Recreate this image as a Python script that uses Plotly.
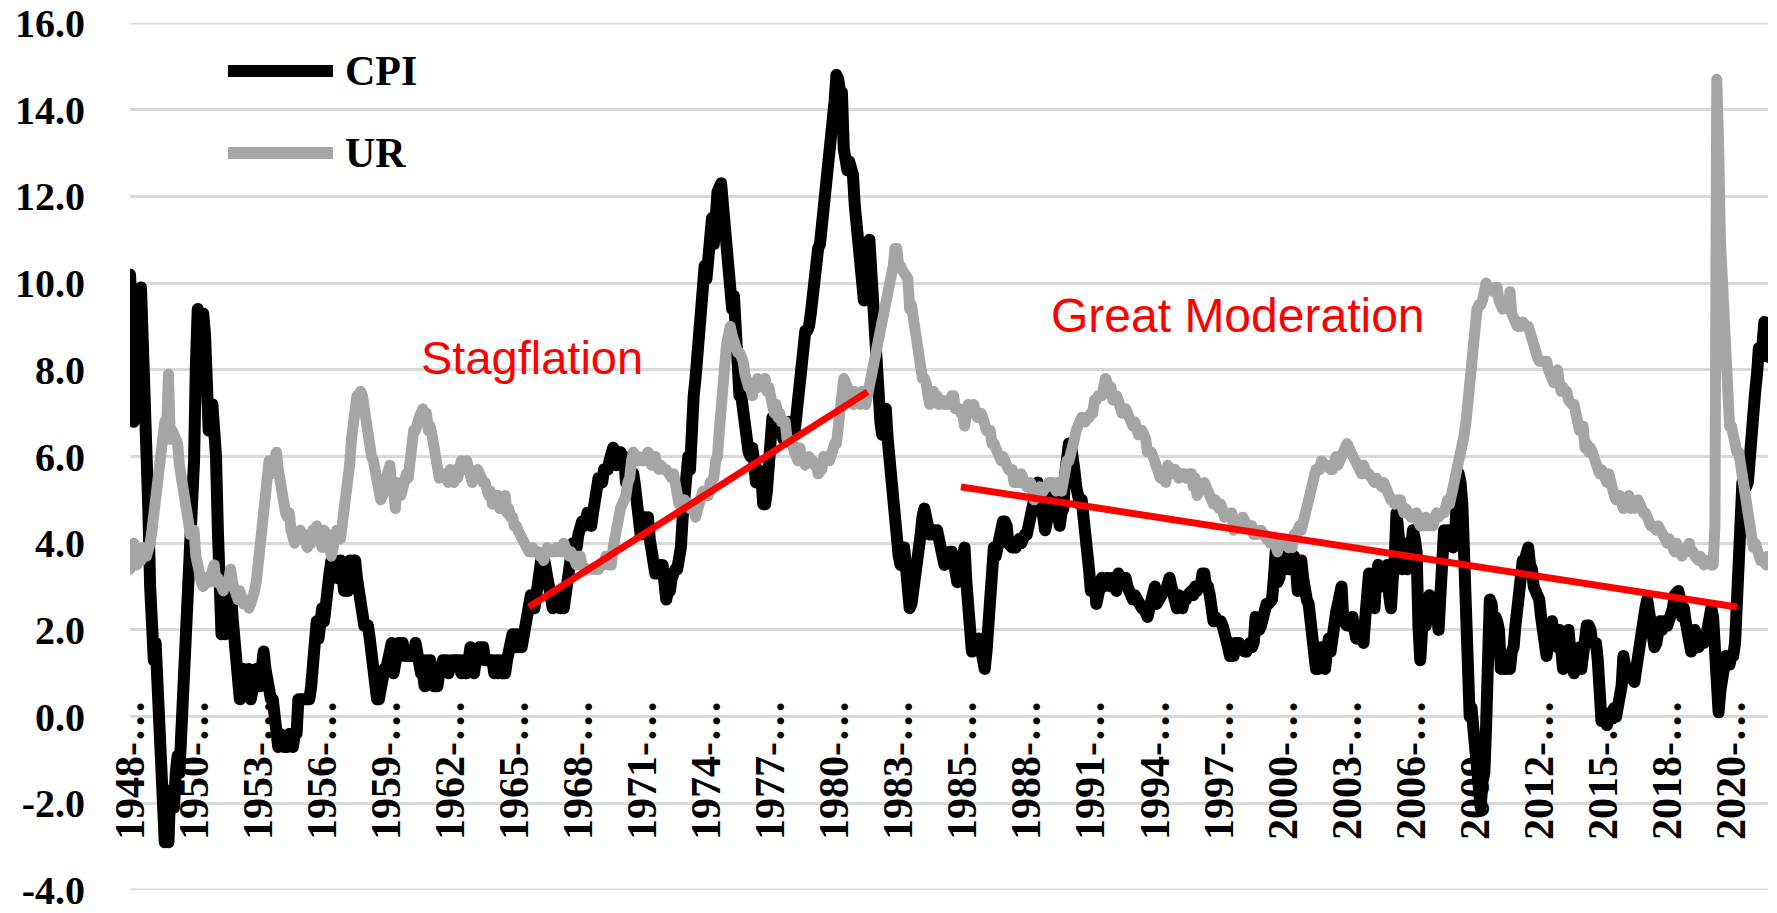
import plotly.graph_objects as go

# Monthly categories 1948-01 .. 2022-08
months = [f"{y}-{m:02d}" for y in range(1948, 2023) for m in range(1, 13)][:896]

# CPI, year-over-year % change (monthly)
cpi_yoy = [
    10.2, 9.3, 6.8, 8.3, 9.4, 9.5, 9.9, 8.9, 6.5, 6.1, 4.8, 3.0,      # 1948
    1.3, 1.3, 1.7, 0.4, -0.4, -0.9, -2.9, -2.9, -2.4, -2.9, -1.7, -2.1,  # 1949
    -2.1, -1.3, -0.9, -1.3, -0.4, -0.4, 1.7, 2.2, 2.2, 3.5, 3.9, 5.9,  # 1950
    8.1, 9.4, 9.3, 9.3, 9.3, 8.8, 7.5, 6.6, 7.0, 7.2, 6.8, 6.0,        # 1951
    4.3, 2.3, 1.9, 2.3, 1.9, 2.3, 3.0, 3.1, 2.3, 1.9, 1.1, 0.8,        # 1952
    0.4, 0.8, 1.1, 0.8, 1.1, 1.1, 0.4, 0.8, 0.7, 1.1, 0.7, 0.7,        # 1953
    1.1, 1.5, 1.1, 0.7, 0.7, 0.4, 0.4, 0.0, -0.4, -0.7, -0.4, -0.7,    # 1954
    -0.7, -0.7, -0.7, -0.4, -0.7, -0.7, -0.4, -0.4, 0.4, 0.4, 0.4, 0.4,  # 1955
    0.4, 0.4, 0.4, 0.7, 1.1, 1.8, 2.2, 1.8, 2.2, 2.5, 2.2, 2.9,        # 1956
    2.9, 3.3, 3.6, 3.6, 3.6, 3.2, 3.2, 3.6, 3.2, 2.9, 3.2, 2.9,        # 1957
    3.6, 3.2, 3.6, 3.6, 3.2, 2.8, 2.5, 2.1, 2.1, 2.1, 2.1, 1.8,        # 1958
    1.4, 1.1, 0.4, 0.4, 0.4, 0.7, 0.7, 1.1, 1.1, 1.4, 1.4, 1.7,        # 1959
    1.0, 1.4, 1.4, 1.7, 1.7, 1.7, 1.4, 1.4, 1.4, 1.4, 1.4, 1.4,        # 1960
    1.7, 1.4, 1.4, 1.0, 1.0, 0.7, 1.3, 1.0, 1.3, 0.7, 0.7, 0.7,        # 1961
    0.7, 1.0, 1.0, 1.3, 1.3, 1.3, 1.0, 1.3, 1.3, 1.3, 1.3, 1.3,        # 1962
    1.3, 1.0, 1.3, 1.0, 1.0, 1.3, 1.6, 1.3, 1.0, 1.3, 1.3, 1.6,        # 1963
    1.6, 1.6, 1.3, 1.3, 1.3, 1.3, 1.3, 1.0, 1.3, 1.0, 1.3, 1.0,        # 1964
    1.0, 1.0, 1.3, 1.6, 1.6, 1.9, 1.6, 1.9, 1.6, 1.9, 1.6, 1.9,        # 1965
    1.9, 2.5, 2.5, 2.8, 2.8, 2.5, 2.8, 3.4, 3.4, 3.7, 3.7, 3.4,        # 1966
    3.4, 2.8, 2.8, 2.5, 2.8, 2.8, 2.8, 2.5, 2.8, 2.5, 2.8, 3.0,        # 1967
    3.6, 4.0, 4.0, 3.9, 3.9, 4.2, 4.5, 4.5, 4.4, 4.7, 4.7, 4.7,        # 1968
    4.4, 4.7, 5.2, 5.5, 5.5, 5.5, 5.4, 5.7, 5.7, 5.7, 5.9, 6.2,        # 1969
    6.2, 6.1, 5.8, 6.1, 6.1, 6.0, 6.0, 5.4, 5.7, 5.6, 5.6, 5.6,        # 1970
    5.3, 5.0, 4.7, 4.2, 4.4, 4.6, 4.4, 4.6, 4.1, 3.8, 3.3, 3.3,        # 1971
    3.3, 3.5, 3.5, 3.5, 3.2, 2.7, 2.9, 2.9, 3.2, 3.4, 3.4, 3.4,        # 1972
    3.6, 3.9, 4.6, 5.1, 5.5, 6.0, 5.7, 7.4, 7.4, 7.8, 8.3, 8.7,        # 1973
    9.4, 10.0, 10.4, 10.1, 10.7, 10.9, 11.5, 10.9, 11.9, 12.1, 12.2, 12.3,  # 1974
    11.8, 11.2, 10.3, 10.2, 9.5, 9.4, 9.7, 8.6, 7.9, 7.4, 7.4, 6.9,    # 1975
    6.7, 6.3, 6.1, 6.0, 6.2, 5.9, 5.4, 5.7, 5.5, 5.5, 4.9, 4.9,        # 1976
    5.2, 6.0, 6.4, 6.9, 6.7, 6.9, 6.8, 6.6, 6.6, 6.4, 6.7, 6.7,        # 1977
    6.8, 6.4, 6.6, 6.5, 7.0, 7.4, 7.7, 7.8, 8.3, 8.9, 8.9, 9.0,        # 1978
    9.3, 9.9, 10.2, 10.5, 10.8, 10.9, 11.3, 11.8, 12.2, 12.1, 12.6, 13.3,  # 1979
    13.9, 14.2, 14.8, 14.7, 14.4, 14.4, 13.1, 12.9, 12.6, 12.8, 12.6, 12.5,  # 1980
    11.8, 11.4, 10.5, 10.0, 9.8, 9.6, 10.8, 10.8, 11.0, 10.1, 9.6, 8.9,  # 1981
    8.4, 7.6, 6.8, 6.5, 6.7, 7.1, 6.4, 5.9, 5.0, 5.1, 4.6, 3.8,        # 1982
    3.7, 3.5, 3.6, 3.9, 3.5, 2.6, 2.5, 2.6, 2.9, 2.9, 3.3, 3.8,        # 1983
    4.2, 4.6, 4.8, 4.6, 4.2, 4.2, 4.2, 4.3, 4.3, 4.3, 4.1, 3.9,        # 1984
    3.5, 3.5, 3.7, 3.7, 3.8, 3.8, 3.6, 3.3, 3.1, 3.2, 3.5, 3.8,        # 1985
    3.9, 3.1, 2.2, 1.6, 1.5, 1.8, 1.6, 1.6, 1.8, 1.5, 1.3, 1.1,        # 1986
    1.5, 2.1, 3.0, 3.8, 3.9, 3.7, 3.9, 4.3, 4.4, 4.5, 4.5, 4.4,        # 1987
    4.0, 3.9, 3.9, 3.9, 3.9, 4.0, 4.1, 4.0, 4.2, 4.2, 4.2, 4.4,        # 1988
    4.7, 4.8, 5.0, 5.1, 5.4, 5.2, 5.0, 4.7, 4.3, 4.5, 4.7, 4.6,        # 1989
    5.2, 5.3, 5.2, 4.7, 4.4, 4.7, 4.8, 5.6, 6.2, 6.3, 6.3, 6.1,        # 1990
    5.7, 5.3, 4.9, 4.9, 5.0, 4.7, 4.4, 3.8, 3.4, 2.9, 3.0, 3.1,        # 1991
    2.6, 2.8, 3.2, 3.2, 3.0, 3.1, 3.2, 3.1, 3.0, 3.2, 3.0, 2.9,        # 1992
    3.3, 3.2, 3.1, 3.2, 3.2, 3.0, 2.8, 2.8, 2.7, 2.8, 2.7, 2.7,        # 1993
    2.5, 2.5, 2.5, 2.4, 2.3, 2.5, 2.8, 2.9, 3.0, 2.6, 2.7, 2.7,        # 1994
    2.8, 2.9, 2.9, 3.1, 3.2, 3.0, 2.8, 2.6, 2.5, 2.8, 2.6, 2.5,        # 1995
    2.7, 2.7, 2.8, 2.9, 2.9, 2.8, 3.0, 2.9, 3.0, 3.0, 3.3, 3.3,        # 1996
    3.0, 3.0, 2.8, 2.5, 2.2, 2.3, 2.2, 2.2, 2.2, 2.1, 1.8, 1.7,        # 1997
    1.6, 1.4, 1.4, 1.4, 1.7, 1.7, 1.7, 1.6, 1.5, 1.5, 1.5, 1.6,        # 1998
    1.7, 1.6, 1.7, 2.3, 2.1, 2.0, 2.1, 2.3, 2.6, 2.6, 2.6, 2.7,        # 1999
    2.7, 3.2, 3.8, 3.1, 3.2, 3.7, 3.7, 3.4, 3.5, 3.4, 3.4, 3.4,        # 2000
    3.7, 3.5, 2.9, 3.3, 3.6, 3.2, 2.7, 2.7, 2.6, 2.1, 1.9, 1.6,        # 2001
    1.1, 1.1, 1.5, 1.6, 1.2, 1.1, 1.5, 1.8, 1.5, 2.0, 2.2, 2.4,        # 2002
    2.6, 3.0, 3.0, 2.2, 2.1, 2.1, 2.1, 2.2, 2.3, 2.0, 1.8, 1.9,        # 2003
    1.9, 1.7, 1.7, 2.3, 3.1, 3.3, 3.0, 2.7, 2.5, 3.2, 3.5, 3.3,        # 2004
    3.0, 3.0, 3.1, 3.5, 2.8, 2.5, 3.2, 3.6, 4.7, 4.3, 3.5, 3.4,        # 2005
    4.0, 3.6, 3.4, 3.5, 4.2, 4.3, 4.1, 3.8, 2.1, 1.3, 2.0, 2.5,        # 2006
    2.1, 2.4, 2.8, 2.6, 2.7, 2.7, 2.4, 2.0, 2.8, 3.5, 4.3, 4.1,        # 2007
    4.3, 4.0, 4.0, 3.9, 4.2, 5.0, 5.6, 5.4, 4.9, 3.7, 1.1, 0.1,        # 2008
    0.0, 0.2, -0.4, -0.7, -1.3, -1.4, -2.1, -1.5, -1.3, -0.2, 1.8, 2.7,  # 2009
    2.6, 2.1, 2.3, 2.2, 2.0, 1.1, 1.2, 1.1, 1.1, 1.2, 1.1, 1.5,        # 2010
    1.6, 2.1, 2.7, 3.2, 3.6, 3.6, 3.6, 3.8, 3.9, 3.5, 3.4, 3.0,        # 2011
    2.9, 2.9, 2.7, 2.3, 1.7, 1.7, 1.4, 1.7, 2.0, 2.2, 1.8, 1.7,        # 2012
    1.6, 2.0, 1.5, 1.1, 1.4, 1.8, 2.0, 1.5, 1.2, 1.0, 1.2, 1.5,        # 2013
    1.6, 1.1, 1.5, 2.0, 2.1, 2.1, 2.0, 1.7, 1.7, 1.7, 1.3, 0.8,        # 2014
    -0.1, 0.0, -0.1, -0.2, 0.0, 0.1, 0.2, 0.2, 0.0, 0.2, 0.5, 0.7,     # 2015
    1.4, 1.0, 0.9, 1.1, 1.0, 1.0, 0.8, 1.1, 1.5, 1.6, 1.7, 2.1,        # 2016
    2.5, 2.7, 2.4, 2.2, 1.9, 1.6, 1.7, 1.9, 2.2, 2.0, 2.2, 2.1,        # 2017
    2.1, 2.2, 2.4, 2.5, 2.8, 2.9, 2.9, 2.7, 2.3, 2.5, 2.2, 1.9,        # 2018
    1.6, 1.5, 1.9, 2.0, 1.8, 1.6, 1.8, 1.7, 1.7, 1.8, 2.1, 2.3,        # 2019
    2.5, 2.3, 1.5, 0.3, 0.1, 0.6, 1.0, 1.3, 1.4, 1.2, 1.2, 1.4,        # 2020
    1.4, 1.7, 2.6, 4.2, 5.0, 5.4, 5.4, 5.3, 5.4, 6.2, 6.8, 7.0,        # 2021
    7.5, 7.9, 8.5, 8.3, 8.6, 9.1, 8.5, 8.3,                            # 2022
]

# Unemployment rate, % (monthly)
unemployment = [
    3.4, 3.8, 4.0, 3.9, 3.5, 3.6, 3.6, 3.9, 3.8, 3.7, 3.8, 4.0,   # 1948
    4.3, 4.7, 5.0, 5.3, 6.1, 6.2, 6.7, 6.8, 6.6, 7.9, 6.4, 6.6,   # 1949
    6.5, 6.4, 6.3, 5.8, 5.5, 5.4, 5.0, 4.5, 4.4, 4.2, 4.2, 4.3,   # 1950
    3.7, 3.4, 3.4, 3.1, 3.0, 3.2, 3.1, 3.1, 3.3, 3.5, 3.5, 3.1,   # 1951
    3.2, 3.1, 2.9, 2.9, 3.0, 3.0, 3.2, 3.4, 3.1, 3.0, 2.8, 2.7,   # 1952
    2.9, 2.6, 2.6, 2.7, 2.5, 2.5, 2.6, 2.7, 2.9, 3.1, 3.5, 4.5,   # 1953
    4.9, 5.2, 5.7, 5.9, 5.9, 5.6, 5.8, 6.0, 6.1, 5.7, 5.3, 5.0,   # 1954
    4.9, 4.7, 4.6, 4.7, 4.3, 4.2, 4.0, 4.2, 4.1, 4.3, 4.2, 4.2,   # 1955
    4.0, 3.9, 4.2, 4.0, 4.3, 4.3, 4.4, 4.1, 3.9, 3.9, 4.3, 4.2,   # 1956
    4.2, 3.9, 3.7, 3.9, 4.1, 4.3, 4.2, 4.1, 4.4, 4.5, 5.1, 5.2,   # 1957
    5.8, 6.4, 6.7, 7.4, 7.4, 7.3, 7.5, 7.4, 7.1, 6.7, 6.2, 6.2,   # 1958
    6.0, 5.9, 5.6, 5.2, 5.1, 5.0, 5.1, 5.2, 5.5, 5.7, 5.8, 5.3,   # 1959
    5.2, 4.8, 5.4, 5.2, 5.1, 5.4, 5.5, 5.6, 5.5, 6.1, 6.1, 6.6,   # 1960
    6.6, 6.9, 6.9, 7.0, 7.1, 6.9, 7.0, 6.6, 6.7, 6.5, 6.1, 6.0,   # 1961
    5.8, 5.5, 5.6, 5.6, 5.5, 5.5, 5.4, 5.7, 5.6, 5.4, 5.7, 5.5,   # 1962
    5.7, 5.9, 5.7, 5.7, 5.9, 5.6, 5.6, 5.4, 5.5, 5.5, 5.7, 5.5,   # 1963
    5.6, 5.4, 5.4, 5.3, 5.1, 5.2, 4.9, 5.0, 5.1, 5.1, 4.8, 5.0,   # 1964
    4.9, 5.1, 4.7, 4.8, 4.6, 4.6, 4.4, 4.4, 4.3, 4.2, 4.1, 4.0,   # 1965
    4.0, 3.8, 3.8, 3.8, 3.9, 3.8, 3.8, 3.8, 3.7, 3.7, 3.6, 3.8,   # 1966
    3.9, 3.8, 3.8, 3.8, 3.8, 3.9, 3.8, 3.8, 3.8, 4.0, 3.9, 3.8,   # 1967
    3.7, 3.8, 3.7, 3.5, 3.5, 3.7, 3.7, 3.5, 3.4, 3.4, 3.4, 3.4,   # 1968
    3.4, 3.4, 3.4, 3.4, 3.4, 3.5, 3.5, 3.5, 3.7, 3.7, 3.5, 3.5,   # 1969
    3.9, 4.2, 4.4, 4.6, 4.8, 4.9, 5.0, 5.1, 5.4, 5.5, 5.9, 6.1,   # 1970
    5.9, 5.9, 6.0, 5.9, 5.9, 5.9, 6.0, 6.1, 6.0, 5.8, 6.0, 6.0,   # 1971
    5.8, 5.7, 5.8, 5.7, 5.7, 5.7, 5.6, 5.6, 5.5, 5.6, 5.3, 5.2,   # 1972
    4.9, 5.0, 4.9, 5.0, 4.9, 4.9, 4.8, 4.8, 4.8, 4.6, 4.8, 4.9,   # 1973
    5.1, 5.2, 5.1, 5.1, 5.1, 5.4, 5.5, 5.5, 5.9, 6.0, 6.6, 7.2,   # 1974
    8.1, 8.1, 8.6, 8.8, 9.0, 8.8, 8.6, 8.4, 8.4, 8.4, 8.3, 8.2,   # 1975
    7.9, 7.7, 7.6, 7.7, 7.4, 7.6, 7.8, 7.8, 7.6, 7.7, 7.8, 7.8,   # 1976
    7.5, 7.6, 7.4, 7.2, 7.0, 7.2, 6.9, 7.0, 6.8, 6.8, 6.8, 6.4,   # 1977
    6.4, 6.3, 6.3, 6.1, 6.0, 5.9, 6.2, 5.9, 6.0, 5.8, 5.9, 6.0,   # 1978
    5.9, 5.9, 5.8, 5.8, 5.6, 5.7, 5.7, 6.0, 5.9, 6.0, 5.9, 6.0,   # 1979
    6.3, 6.3, 6.3, 6.9, 7.5, 7.6, 7.8, 7.7, 7.5, 7.5, 7.5, 7.2,   # 1980
    7.5, 7.4, 7.4, 7.2, 7.5, 7.5, 7.2, 7.4, 7.6, 7.9, 8.3, 8.5,   # 1981
    8.6, 8.9, 9.0, 9.3, 9.4, 9.6, 9.8, 9.8, 10.1, 10.4, 10.8, 10.8,  # 1982
    10.4, 10.4, 10.3, 10.2, 10.1, 10.1, 9.4, 9.5, 9.2, 8.8, 8.5, 8.3,  # 1983
    8.0, 7.8, 7.8, 7.7, 7.4, 7.2, 7.5, 7.5, 7.3, 7.4, 7.2, 7.3,   # 1984
    7.3, 7.2, 7.2, 7.3, 7.2, 7.4, 7.4, 7.1, 7.1, 7.1, 7.0, 7.0,   # 1985
    6.7, 7.2, 7.2, 7.1, 7.2, 7.2, 7.0, 6.9, 7.0, 7.0, 6.9, 6.6,   # 1986
    6.6, 6.6, 6.6, 6.3, 6.3, 6.2, 6.1, 6.0, 5.9, 6.0, 5.8, 5.7,   # 1987
    5.7, 5.7, 5.7, 5.4, 5.6, 5.4, 5.4, 5.6, 5.4, 5.4, 5.3, 5.3,   # 1988
    5.4, 5.2, 5.0, 5.2, 5.2, 5.3, 5.2, 5.2, 5.3, 5.3, 5.4, 5.4,   # 1989
    5.4, 5.3, 5.2, 5.4, 5.4, 5.2, 5.5, 5.7, 5.9, 5.9, 6.2, 6.3,   # 1990
    6.4, 6.6, 6.8, 6.7, 6.9, 6.9, 6.8, 6.9, 6.9, 7.0, 7.0, 7.3,   # 1991
    7.3, 7.4, 7.4, 7.4, 7.6, 7.8, 7.7, 7.6, 7.6, 7.3, 7.4, 7.4,   # 1992
    7.3, 7.1, 7.0, 7.1, 7.1, 7.0, 6.9, 6.8, 6.7, 6.8, 6.6, 6.5,   # 1993
    6.6, 6.6, 6.5, 6.4, 6.1, 6.1, 6.1, 6.0, 5.9, 5.8, 5.6, 5.5,   # 1994
    5.6, 5.4, 5.4, 5.8, 5.6, 5.6, 5.7, 5.7, 5.6, 5.5, 5.6, 5.6,   # 1995
    5.6, 5.5, 5.5, 5.6, 5.6, 5.3, 5.5, 5.1, 5.2, 5.2, 5.4, 5.4,   # 1996
    5.3, 5.2, 5.2, 5.1, 4.9, 5.0, 4.9, 4.8, 4.9, 4.7, 4.6, 4.7,   # 1997
    4.6, 4.6, 4.7, 4.3, 4.4, 4.5, 4.5, 4.5, 4.6, 4.5, 4.4, 4.4,   # 1998
    4.3, 4.4, 4.2, 4.3, 4.2, 4.3, 4.3, 4.2, 4.2, 4.1, 4.1, 4.0,   # 1999
    4.0, 4.1, 4.0, 3.8, 4.0, 4.0, 4.0, 4.1, 3.9, 3.9, 3.9, 3.9,   # 2000
    4.2, 4.2, 4.3, 4.4, 4.3, 4.5, 4.6, 4.9, 5.0, 5.3, 5.5, 5.7,   # 2001
    5.7, 5.7, 5.7, 5.9, 5.8, 5.8, 5.8, 5.7, 5.7, 5.7, 5.9, 6.0,   # 2002
    5.8, 5.9, 5.9, 6.0, 6.1, 6.3, 6.2, 6.1, 6.1, 6.0, 5.8, 5.7,   # 2003
    5.7, 5.6, 5.8, 5.6, 5.6, 5.6, 5.5, 5.4, 5.4, 5.5, 5.4, 5.4,   # 2004
    5.3, 5.4, 5.2, 5.2, 5.1, 5.0, 5.0, 4.9, 5.0, 5.0, 5.0, 4.9,   # 2005
    4.7, 4.8, 4.7, 4.7, 4.6, 4.6, 4.7, 4.7, 4.5, 4.4, 4.5, 4.4,   # 2006
    4.6, 4.5, 4.4, 4.5, 4.4, 4.6, 4.7, 4.6, 4.7, 4.7, 4.7, 5.0,   # 2007
    5.0, 4.9, 5.1, 5.0, 5.4, 5.6, 5.8, 6.1, 6.1, 6.5, 6.8, 7.3,   # 2008
    7.8, 8.3, 8.7, 9.0, 9.4, 9.5, 9.5, 9.6, 9.8, 10.0, 9.9, 9.9,  # 2009
    9.8, 9.8, 9.9, 9.9, 9.6, 9.4, 9.4, 9.5, 9.5, 9.4, 9.8, 9.3,   # 2010
    9.1, 9.0, 9.0, 9.1, 9.0, 9.1, 9.0, 9.0, 9.0, 8.8, 8.6, 8.5,   # 2011
    8.3, 8.3, 8.2, 8.2, 8.2, 8.2, 8.2, 8.0, 7.8, 7.8, 7.7, 7.9,   # 2012
    8.0, 7.7, 7.5, 7.6, 7.5, 7.5, 7.3, 7.2, 7.2, 7.2, 6.9, 6.7,   # 2013
    6.6, 6.7, 6.7, 6.2, 6.3, 6.1, 6.2, 6.1, 5.9, 5.7, 5.8, 5.6,   # 2014
    5.7, 5.5, 5.4, 5.4, 5.6, 5.3, 5.2, 5.1, 5.0, 5.0, 5.1, 5.0,   # 2015
    4.8, 4.9, 5.0, 5.1, 4.8, 4.9, 4.8, 4.9, 5.0, 4.9, 4.7, 4.7,   # 2016
    4.7, 4.6, 4.4, 4.4, 4.4, 4.3, 4.3, 4.4, 4.3, 4.2, 4.2, 4.1,   # 2017
    4.0, 4.1, 4.0, 4.0, 3.8, 4.0, 3.8, 3.8, 3.7, 3.8, 3.8, 3.9,   # 2018
    4.0, 3.8, 3.8, 3.7, 3.6, 3.6, 3.7, 3.6, 3.5, 3.6, 3.6, 3.6,   # 2019
    3.5, 3.5, 4.4, 14.7, 13.2, 11.0, 10.2, 8.4, 7.9, 6.9, 6.7, 6.7,  # 2020
    6.4, 6.2, 6.1, 6.1, 5.8, 5.9, 5.4, 5.2, 4.7, 4.5, 4.2, 3.9,   # 2021
    4.0, 3.8, 3.6, 3.6, 3.6, 3.6, 3.5, 3.7,                       # 2022
]

# Category labels shown on the axis (every 35th month, truncated as in the original)
tick_months = months[::35]
tick_labels = [m[:4] + "-\u2026" for m in tick_months]

# Value-axis ticks (plain hyphen for negatives, as in the original)
y_ticks = [-4, -2, 0, 2, 4, 6, 8, 10, 12, 14, 16]
y_labels = [f"{v:.1f}" for v in y_ticks]

# Annotation trend lines: (start month, start value, end month, end value)
stagflation_trend = ("1966-03", 2.53, "1981-08", 7.49)
moderation_trend = ("1985-11", 5.30, "2021-03", 2.53)

serif = "Liberation Serif"
sans = "Liberation Sans"
grid_color = "#d9d9d9"

fig = go.Figure()
fig.add_trace(go.Scatter(x=months, y=cpi_yoy, mode="lines", name="CPI",
                         line=dict(color="#000000", width=12)))
fig.add_trace(go.Scatter(x=months, y=unemployment, mode="lines", name="UR",
                         line=dict(color="#a5a5a5", width=11)))

# Gridlines at the two ends of the value range (Plotly skips them at the domain edges)
for yv in (y_ticks[0], y_ticks[-1]):
    fig.add_shape(type="line", xref="paper", yref="y", x0=0, x1=1, y0=yv, y1=yv,
                  line=dict(color=grid_color, width=3), layer="below")

for (x0, y0, x1, y1) in (stagflation_trend, moderation_trend):
    fig.add_shape(type="line", xref="x", yref="y", x0=x0, y0=y0, x1=x1, y1=y1,
                  line=dict(color="#ff0000", width=7))

# Manual legend (long line samples like the original)
legend_items = [("CPI", "#000000", 0.9446), ("UR", "#a5a5a5", 0.8501)]
for name, color, ypos in legend_items:
    fig.add_shape(type="line", xref="paper", yref="paper", x0=0.0598, x1=0.1239,
                  y0=ypos, y1=ypos, line=dict(color=color, width=12))
    fig.add_annotation(x=0.1300, y=ypos, xref="paper", yref="paper", text=name,
                       showarrow=False, xanchor="left", yanchor="middle",
                       font=dict(family=serif, size=42, color="#000000", weight="bold"))

fig.add_annotation(x=0.2454, y=0.614, xref="paper", yref="paper", text="Stagflation",
                   showarrow=False, xanchor="center", yanchor="middle",
                   font=dict(family=sans, size=47, color="#ff0000"))
fig.add_annotation(x=0.6765, y=0.6632, xref="paper", yref="paper", text="Great Moderation",
                   showarrow=False, xanchor="center", yanchor="middle",
                   font=dict(family=sans, size=48, color="#ff0000"))

fig.update_layout(
    width=1777, height=913,
    margin=dict(l=130, r=9, t=23, b=23),
    paper_bgcolor="#ffffff", plot_bgcolor="#ffffff",
    showlegend=False,
    xaxis=dict(
        type="category", categoryorder="array", categoryarray=months,
        range=[0, len(months) - 1],
        tickvals=tick_months, ticktext=tick_labels, tickangle=-90,
        tickfont=dict(family=serif, size=42, color="#000000", weight="bold"),
        showgrid=False, showline=False, zeroline=False, ticks="",
        anchor="free", position=0.230, automargin=False,
    ),
    yaxis=dict(
        range=[-4, 16], tickvals=y_ticks, ticktext=y_labels,
        tickfont=dict(family=serif, size=40, color="#000000", weight="bold"),
        showgrid=True, gridcolor=grid_color, gridwidth=3,
        zeroline=False, showline=False, ticks="", ticklabelstandoff=44,
        ticklabeloverflow="allow", automargin=False,
    ),
)

post = """
document.body.style.margin='0';
document.body.style.overflow='hidden';
document.querySelectorAll('.scatterlayer path.js-line').forEach(function(p){
  p.style.strokeLinejoin='round'; p.style.strokeLinecap='round';
});
"""
fig.write_html("out.html", post_script=post, config={"displayModeBar": False})
